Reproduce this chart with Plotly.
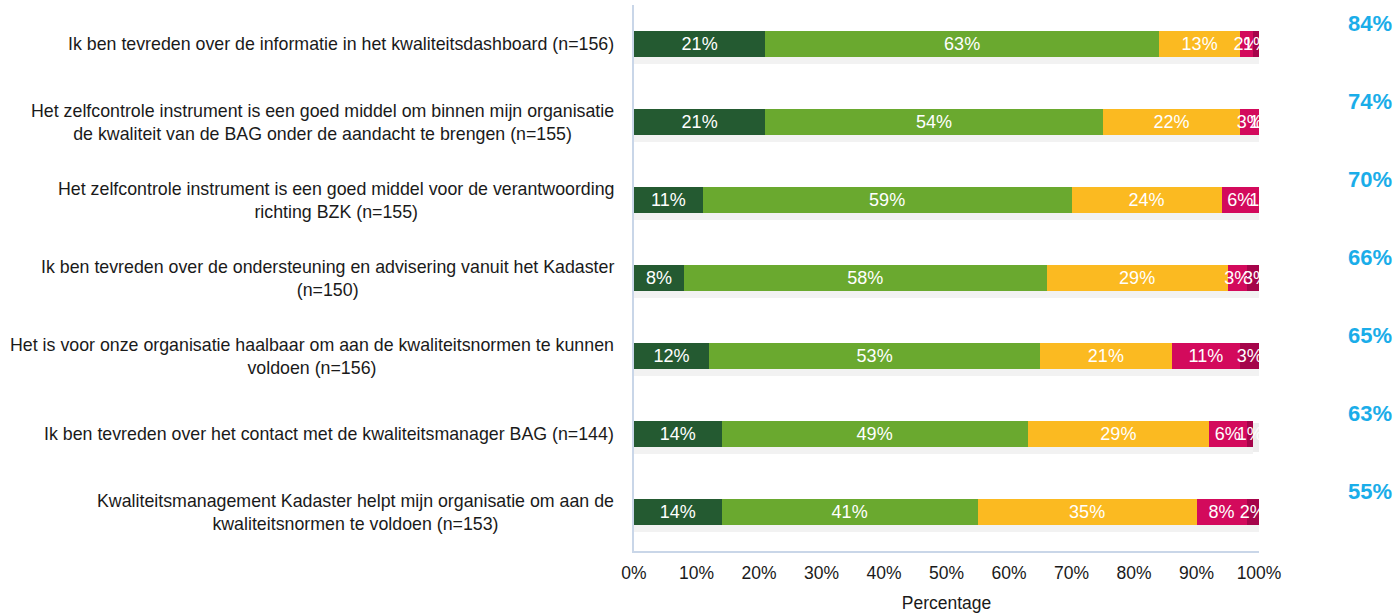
import plotly.graph_objects as go

# Survey statements (top to bottom)
statements = [
    "Ik ben tevreden over de informatie in het kwaliteitsdashboard (n=156)",
    "Het zelfcontrole instrument is een goed middel om binnen mijn organisatie<br>de kwaliteit van de BAG onder de aandacht te brengen (n=155)",
    "Het zelfcontrole instrument is een goed middel voor de verantwoording<br>richting BZK (n=155)",
    "Ik ben tevreden over de ondersteuning en advisering vanuit het Kadaster<br>(n=150)",
    "Het is voor onze organisatie haalbaar om aan de kwaliteitsnormen te kunnen<br>voldoen (n=156)",
    "Ik ben tevreden over het contact met de kwaliteitsmanager BAG (n=144)",
    "Kwaliteitsmanagement Kadaster helpt mijn organisatie om aan de<br>kwaliteitsnormen te voldoen (n=153)",
]

# Answer shares per statement, in percent
helemaal_eens = [21, 21, 11, 8, 12, 14, 14]
eens = [63, 54, 59, 58, 53, 49, 41]
neutraal = [13, 22, 24, 29, 21, 29, 35]
oneens = [2, 3, 6, 3, 11, 6, 8]
helemaal_oneens = [1, 1, 1, 3, 3, 1, 2]

# Total agreement shown at the right
totaal_eens = [84, 74, 70, 66, 65, 63, 55]

series = [
    ("Helemaal eens", helemaal_eens, "#245a31"),
    ("Eens", eens, "#6aa92f"),
    ("Neutraal", neutraal, "#fbba21"),
    ("Oneens", oneens, "#d30a5c"),
    ("Helemaal oneens", helemaal_oneens, "#a5044a"),
]

FONT = "Liberation Sans, Arial"
cats = list(range(len(statements)))
totals = [sum(v) for v in zip(*[s[1] for s in series])]

fig = go.Figure()

# soft drop shadow under each bar, on the base axis shifted a few pixels down
for w, a in [(0.42, 0.05), (0.37, 0.07)]:
    fig.add_trace(go.Bar(
        y=cats, x=totals, orientation="h", yaxis="y", width=w,
        marker=dict(color=f"rgba(0,0,0,{a})", line=dict(width=0)),
        hoverinfo="skip", showlegend=False,
    ))

# stacked answer bars on the overlay axis, drawn above the shadow
for name, vals, color in series:
    fig.add_trace(go.Bar(
        name=name,
        y=cats,
        x=vals,
        orientation="h",
        yaxis="y2",
        marker=dict(color=color, line=dict(width=0)),
        text=[f"{v}%" for v in vals],
        textposition="inside",
        insidetextanchor="middle",
        textangle=0,
        constraintext="none",
        textfont=dict(color="white", size=18, family=FONT),
        hoverinfo="skip",
    ))

annotations = []
for i, s in enumerate(statements):
    annotations.append(dict(
        x=0, xref="paper", y=i, yref="y2",
        xanchor="right", yanchor="middle", xshift=-18,
        text=s, showarrow=False, align="center",
        font=dict(size=17.8, color="#1a1a1a", family=FONT),
    ))
for i, t in enumerate(totaal_eens):
    annotations.append(dict(
        x=1.216, xref="paper", y=i, yref="y2",
        xanchor="right", yanchor="middle", yshift=21,
        text=f"<b>{t}%</b>", showarrow=False,
        font=dict(size=22, color="#1aade9", family=FONT),
    ))

fig.update_layout(
    barmode="stack",
    bargap=0.667,
    width=1397, height=614,
    margin=dict(l=634, r=138, t=5, b=63),
    plot_bgcolor="white", paper_bgcolor="white",
    showlegend=False,
    annotations=annotations,
    font=dict(family=FONT, color="#1a1a1a"),
    xaxis=dict(
        range=[0, 100], tickvals=list(range(0, 101, 10)),
        ticktext=[f"{v}%" for v in range(0, 101, 10)],
        showgrid=False, zeroline=False,
        showline=True, linecolor="#c9d6e8", linewidth=2,
        ticks="", tickfont=dict(size=17.5), ticklabelstandoff=5,
        title=dict(text="Percentage", font=dict(size=17.5), standoff=15),
    ),
    yaxis=dict(
        range=[6.45, -0.55], showticklabels=False, showgrid=False,
        zeroline=False, showline=True, linecolor="#c9d6e8", linewidth=2,
        ticks="",
    ),
    yaxis2=dict(
        overlaying="y", range=[6.5, -0.5], visible=False,
        showgrid=False, zeroline=False,
    ),
)

fig.write_html("out.html")
